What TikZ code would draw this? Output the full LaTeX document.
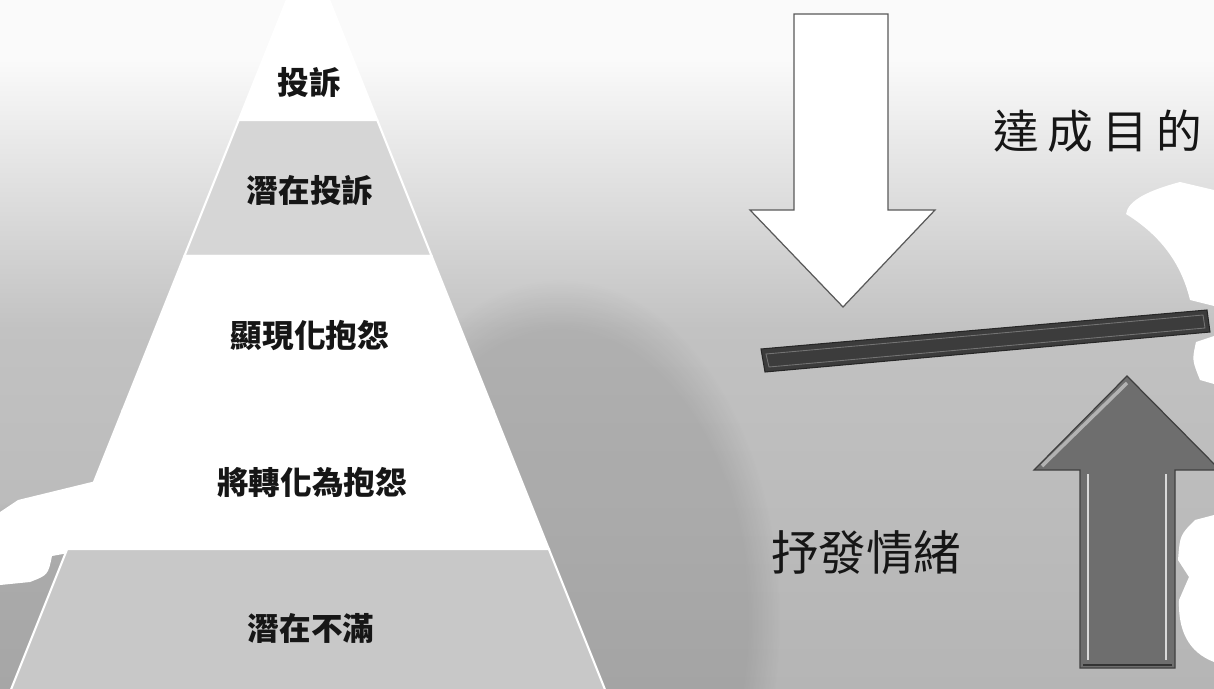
\documentclass[tikz,border=0pt]{standalone}
\usepackage{fontspec}
\newfontfamily\cjk{Noto Sans CJK TC}
\usetikzlibrary{calc, fadings}
\definecolor{CLight}{HTML}{D6D6D6}
\definecolor{CLow}{HTML}{C8C8C8}
\definecolor{CBar}{HTML}{3C3C3C}
\definecolor{CUp}{HTML}{6E6E6E}
\definecolor{CInk}{HTML}{161616}

\begin{document}
\begin{tikzpicture}[x=0.02cm, y=-0.02cm,
    lvl/.style={font=\cjk\bfseries\fontsize{18}{18}\selectfont, text=CInk},
    big/.style={font=\cjk\fontsize{27}{27}\selectfont, text=CInk},
    rim/.style={draw=white, line width=1.2pt}]
    \useasboundingbox (0,0) rectangle (1214,689);
    \clip (0,0) rectangle (1214,689);

    % Paper
    \fill[black!2] (0,0) rectangle (1214,60);
    \shade[top color=black!2, bottom color=black!24] (0,60) rectangle (1214,330);
    \shade[top color=black!24, bottom color=black!29] (0,330) rectangle (1214,689);
    \fill[black, opacity=0.09, path fading=circle with fuzzy edge 15 percent] (560,620) ellipse (220 and 340);
    \fill[black, opacity=0.08, path fading=circle with fuzzy edge 15 percent] (30,660) ellipse (140 and 160);

    % White patches
    \fill[white] (145,360) -- (100,480) -- (18,500) -- (0,512) -- (0,585) -- (30,582)
        .. controls (48,575) .. (52,556) -- (140,540) -- cycle;
    \fill[white] (1214,190) -- (1180,182) .. controls (1150,190) and (1128,200) .. (1126,214)
        .. controls (1155,232) and (1180,258) .. (1190,300) -- (1214,306) -- cycle;
    \fill[white] (1214,336) -- (1196,342) .. controls (1192,360) .. (1200,380) -- (1214,384) -- cycle;
    \fill[white] (1214,515) -- (1195,520) .. controls (1180,535) .. (1178,560) -- (1189,577)
        -- (1179,600) .. controls (1178,630) and (1188,652) .. (1214,662) -- cycle;

    % Pyramid
    \foreach \ya/\yb/\c in {-53/120/white, 120/256/CLight, 256/410/white, 410/549/white, 549/760/CLow}
        \filldraw[fill=\c, rim] ({308-0.4*(\ya+53)},\ya) -- ({308+0.4*(\ya+53)},\ya)
            -- ({308+0.4*(\yb+53)},\yb) -- ({308-0.4*(\yb+53)},\yb) -- cycle;

    \node[lvl] (top) at (309,83) {投訴};
    \node[lvl] (hidden) at (310,190) {潛在投訴};
    \node[lvl] (shown) at (310,336) {顯現化抱怨};
    \node[lvl] (turning) at (312,482) {將轉化為抱怨};
    \node[lvl] (base) at (311,628) {潛在不滿};

    % Down arrow
    \draw[fill=white, draw=black!65, line width=0.7pt] (794,14) -- (888,14) -- (888,210)
        -- (935,210) -- (843,307) -- (750,210) -- (794,210) -- cycle;

    % Bar
    \filldraw[fill=CBar, draw=black!85, line width=0.6pt] (761,349) -- (1207,310) -- (1210,332) -- (765,372) -- cycle;
    \draw[black!55, line width=0.5pt] (766,354) -- (1203,315) -- (1205,328) -- (769,367) -- cycle;

    % Up arrow
    \filldraw[fill=CUp, draw=black!75, line width=0.7pt] (1127,376) -- (1220,470) -- (1175,470)
        -- (1175,668) -- (1080,668) -- (1080,470) -- (1034,470) -- cycle;
    \draw[black!30, line width=2pt] (1042,466) -- (1127,383);
    \draw[white!85!black, line width=1.6pt] (1088,474) -- (1088,660);
    \draw[white!85!black, line width=1.6pt] (1166,474) -- (1166,660);
    \draw[black!80, line width=1.4pt] (1083,665) -- (1172,665);

    % Texts
    \node[big, font=\cjk\fontsize{26}{26}\selectfont] (goal) at (1098,131) {達\hspace{5pt}成\hspace{5pt}目\hspace{5pt}的};
    \node[big] (vent) at (866,553) {抒發情緒};
\end{tikzpicture}
\end{document}
